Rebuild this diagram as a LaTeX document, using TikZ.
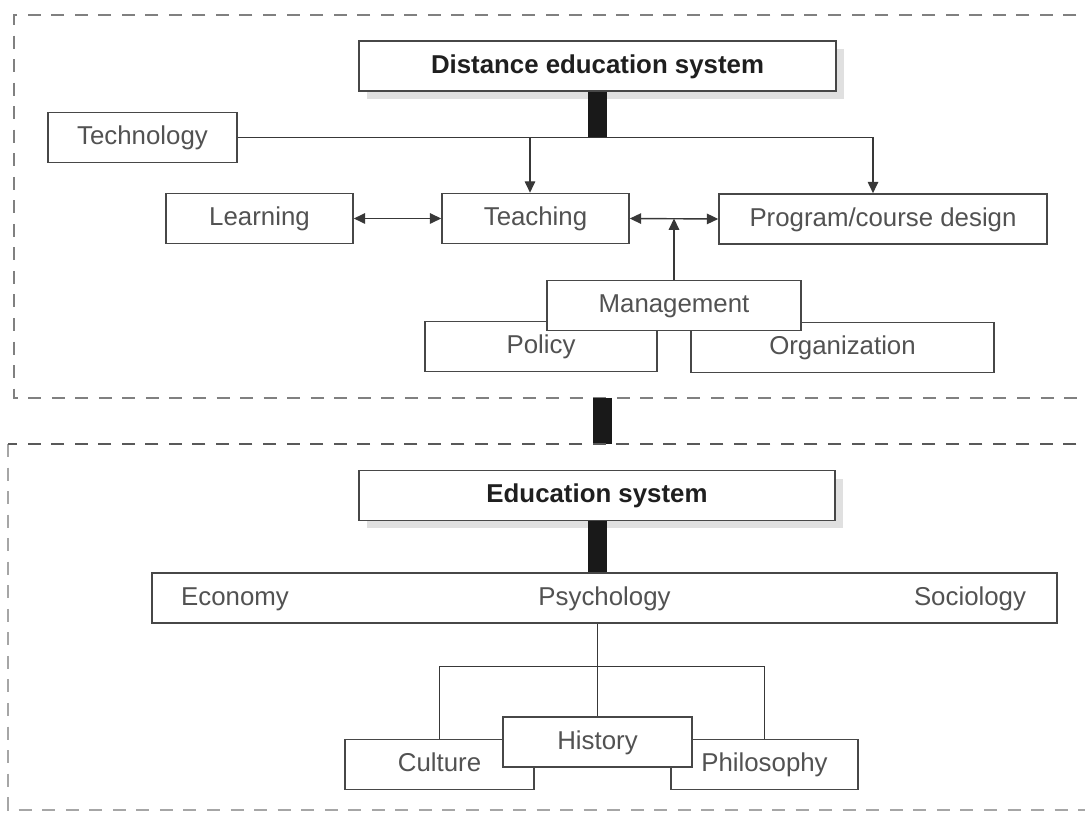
\documentclass[tikz,border=0pt]{standalone}
\usepackage{fontspec}
\setmainfont{Liberation Sans}
\usetikzlibrary{arrows.meta,shadows}

\begin{document}
\begin{tikzpicture}[x=0.02cm, y=-0.02cm,
    component/.style ={rectangle, draw=black!72, line width=0.9pt, fill=white, text=black!68, inner sep=0pt, minimum height=1cm, text height=1.9ex, text depth=0.3ex, font=\fontsize{14.7}{17}\selectfont},
    system/.style ={component, text=black!88, font=\fontsize{14.7}{17}\selectfont\bfseries, drop shadow={shadow xshift=0.16cm, shadow yshift=-0.16cm, fill=black!12, opacity=1}},
    term/.style ={text=black!68, inner sep=0pt, text height=1.9ex, text depth=0.3ex, font=\fontsize{14.7}{17}\selectfont},
    link/.style ={draw=black!78, line width=0.8pt},
    arrow/.style ={link, -{Triangle[length=6.5pt,width=6pt]}},
    twoway/.style ={link, {Triangle[length=6.5pt,width=6pt]}-{Triangle[length=6.5pt,width=6pt]}},
    bar/.style ={draw=black!90, line width=0.38cm},
    frame/.style ={dash pattern=on 7.4pt off 6pt, line width=1.3pt}]
   \clip (0,0) rectangle (1085,813);

   % upper part
   \draw[frame, black!50] (1100,15) -- (14,15) -- (14,398) -- (1100,398);
   \node[system, minimum width=9.54cm] (des) at (597.5,66) {Distance education system};
   \node[component, minimum width=3.78cm] (tech) at (142.5,137.5) {Technology};
   \node[component, minimum width=3.74cm] (learn) at (259.5,218.5) {Learning};
   \node[component, minimum width=3.74cm] (teach) at (535.5,218.5) {Teaching};
   \node[component, minimum width=6.56cm] (prog) at (883,219) {Program/course design};
   \node[component, minimum width=4.64cm] (policy) at (541,346.5) {Policy};
   \node[component, minimum width=6.06cm] (org) at (842.5,347.5) {Organization};
   \node[component, minimum width=5.08cm] (mgmt) at (674,305.5) {Management};

   \coordinate (tjoin) at (530,137.5);
   \coordinate (pjoin) at (873,137.5);
   \draw[bar] (des.south) -- (des.south |- tech.east);
   \draw[link] (tech.east) -- (pjoin);
   \draw[arrow] (tjoin) -- (tjoin |- teach.north);
   \draw[arrow] (pjoin) -- (pjoin |- prog.north);
   \draw[twoway] (learn.east) -- (teach.west);
   \draw[twoway] (teach.east) -- (prog.west);
   \draw[arrow] (mgmt.north) -- (mgmt.north |- teach.east);

   % link between the parts
   \coordinate (upper) at (602,398);
   \coordinate (lower) at (602,444);
   \draw[bar] (upper) -- (lower);

   % lower part
   \draw[frame, black!35] (8,444) -- (8,810) -- (1100,810);
   \draw[frame, black!65] (1100,444) -- (8,444);
   \node[system, minimum width=9.52cm] (edu) at (597,495.5) {Education system};
   \node[component, minimum width=18.1cm] (disc) at (604.5,598) {Psychology};
   \node[term] (econ) at (235,598) {Economy};
   \node[term] (socio) at (970,598) {Sociology};
   \node[component, minimum width=3.78cm] (culture) at (439.5,764.5) {Culture};
   \node[component, minimum width=3.74cm] (philo) at (764.5,764.5) {Philosophy};
   \node[component, minimum width=3.78cm] (history) at (597.5,742) {History};

   \draw[bar] (edu.south) -- (edu.south |- disc.north);
   \draw[link] (history.north |- disc.south) -- (history.north);
   \draw[link] (culture.north) -- ++(0,-72) -| (philo.north);
 \end{tikzpicture}
\end{document}
